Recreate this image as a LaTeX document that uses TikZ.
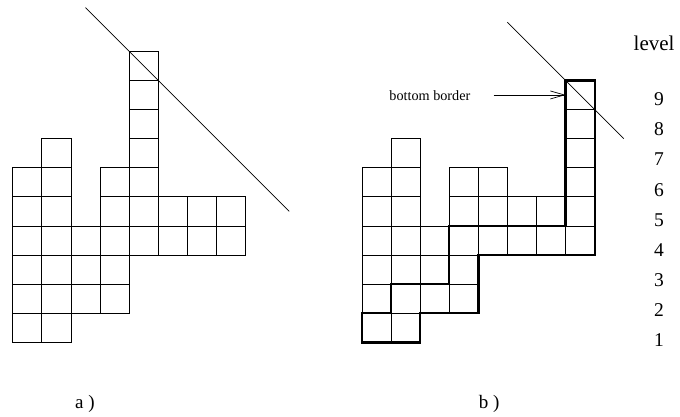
\documentclass[tikz,border=0pt]{standalone}
\usepackage{fontspec}
\setmainfont{Liberation Serif}
\usetikzlibrary{arrows.meta}

\begin{document}
\begin{tikzpicture}[x=29.1pt, y=29.1pt, cell/.style={line width=0.7pt}, border/.style={line width=2.4pt, line join=miter},
                    lvl/.style={font=\fontsize{19.5}{20}\selectfont, anchor=base}]
                    \useasboundingbox (-0.436,-2.533) rectangle (22.93,11.763);
                    % a) the cells
                    \foreach \c/\lo/\hi in {0/1/6, 1/1/7, 2/2/4, 3/2/6, 4/4/10, 5/4/5, 6/4/5, 7/4/5}
                        \foreach \r in {\lo,...,\hi} \draw[cell] (\c,\r-1) rectangle ++(1,1);
                    \coordinate (la) at (2.5,11.5); \coordinate (lb) at (9.5,4.5);
                    \draw[cell] (la) -- (lb);
                    \node[lvl, font=\fontsize{19}{20}\selectfont] (capa) at (2.48,-2.26) {a )};
                    % b) the cells
                    \begin{scope}[xshift=12*29.1pt]
                    \foreach \c/\lo/\hi in {0/1/6, 1/1/7, 2/2/4, 3/2/6, 4/4/6, 5/4/5, 6/4/5, 7/4/9}
                        \foreach \r in {\lo,...,\hi} \draw[cell] (\c,\r-1) rectangle ++(1,1);
                    \draw[border] (0,0) -- (0,1) -- (1,1) -- (1,2) -- (3,2) -- (3,4) -- (7,4) -- (7,9) -- (8,9)
                        -- (8,3) -- (4,3) -- (4,1) -- (2,1) -- (2,0) -- cycle;
                    \coordinate (ra) at (5,11); \coordinate (rb) at (9,7);
                    \draw[cell] (ra) -- (rb);
                    \node[anchor=base west, inner sep=0pt, font=\fontsize{14.2}{15}\selectfont] (bb) at (0.94,8.30) {bottom border};
                    \coordinate (bbtip) at (7,8.5);
                    \draw[cell, -{Straight Barb[length=14pt,width=8pt]}] ([xshift=23pt]bb.east |- bbtip) -- (bbtip);
                    \node[lvl, font=\fontsize{21}{22}\selectfont] (lev) at (10.04,10.04) {level};
                    \foreach \k in {1,...,9} \node[lvl] (n\k) at (10.21,-0.15+1.035*\k-1.035) {\k};
                    \node[lvl, font=\fontsize{19}{20}\selectfont] (capb) at (4.37,-2.26) {b )};
                    \end{scope}
                \end{tikzpicture}
\end{document}
